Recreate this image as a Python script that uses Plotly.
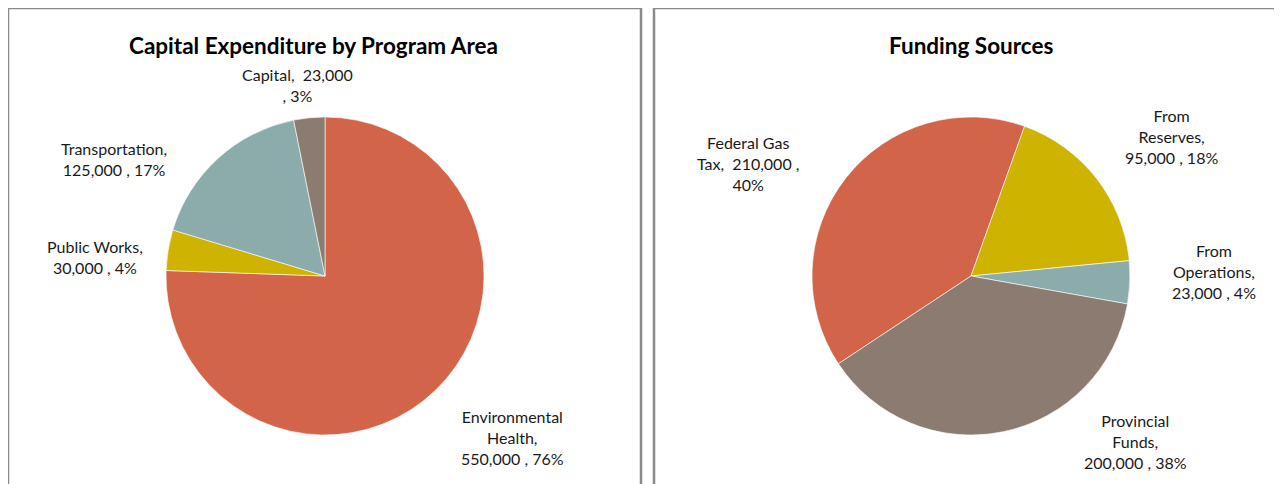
import plotly.graph_objects as go

# Data
prog_names = ["Environmental Health", "Public Works", "Transportation", "Capital"]
prog_values = [550000, 30000, 125000, 23000]
prog_colors = ["#D2644A", "#CEB300", "#8CACAC", "#8C7B70"]

fund_names = ["Federal Gas Tax", "From Reserves", "From Operations", "Provincial Funds"]
fund_values = [210000, 95000, 23000, 200000]
fund_colors = ["#D2644A", "#CEB300", "#8CACAC", "#8C7B70"]

# label line layouts (how the text wraps) and label positions in px
prog_label_lines = [["Environmental", "Health,", "{v} , {p}"],
                    ["Public Works,", "{v} , {p}"],
                    ["Transportation,", "{v} , {p}"],
                    ["Capital,  {v}", ", {p}"]]
prog_label_pos = [(512, 437), (95, 257), (114, 159), (297, 85)]

fund_label_lines = [["Federal Gas", "Tax,  {v} ,", "{p}"],
                    ["From", "Reserves,", "{v} , {p}"],
                    ["From", "Operations,", "{v} , {p}"],
                    ["Provincial", "Funds,", "{v} , {p}"]]
fund_label_pos = [(748, 163), (1171, 137), (1214, 271), (1135, 441)]

W, H = 1282, 484
OX, OY = 8, 8  # page body margin offset
FONT = "Lato"

def fx(px):
    return (px - OX) / W

def fy(py):
    return 1 - (py - OY) / H

fig = go.Figure()

def px_dom(cx, cy, r):
    return dict(x=[fx(cx - r), fx(cx + r)], y=[fy(cy + r), fy(cy - r)])

fig.add_trace(go.Pie(labels=prog_names, values=prog_values, sort=False, direction="clockwise",
                     rotation=0, marker=dict(colors=prog_colors, line=dict(color="white", width=0.6)),
                     textinfo="none", hoverinfo="label+value+percent", showlegend=False,
                     domain=px_dom(325, 276, 159)))
fig.add_trace(go.Pie(labels=fund_names, values=fund_values, sort=False, direction="clockwise",
                     rotation=236.5, marker=dict(colors=fund_colors, line=dict(color="white", width=0.6)),
                     textinfo="none", hoverinfo="label+value+percent", showlegend=False,
                     domain=px_dom(971, 276, 159)))

annotations = []

def add_labels(names, values, lines, positions):
    total = sum(values)
    for n, v, ln, (x, y) in zip(names, values, lines, positions):
        p = f"{round(100 * v / total)}%"
        txt = "<br>".join(l.format(v=f"{v:,}", p=p) for l in ln)
        annotations.append(dict(x=fx(x), y=fy(y), xref="paper", yref="paper",
                                text=txt, showarrow=False, xanchor="center", yanchor="middle",
                                align="center", font=dict(family=FONT, size=16, color="#1a1a1a")))

add_labels(prog_names, prog_values, prog_label_lines, prog_label_pos)
add_labels(fund_names, fund_values, fund_label_lines, fund_label_pos)

annotations.append(dict(x=fx(313), y=fy(45), xref="paper", yref="paper",
                        text="<b>Capital Expenditure by Program Area</b>", showarrow=False,
                        xanchor="center", yanchor="middle",
                        font=dict(family=FONT, size=22.5, color="#000000")))
annotations.append(dict(x=fx(971), y=fy(45), xref="paper", yref="paper",
                        text="<b>Funding Sources</b>", showarrow=False,
                        xanchor="center", yanchor="middle",
                        font=dict(family=FONT, size=22.5, color="#000000")))

shapes = [
    dict(type="rect", xref="paper", yref="paper", x0=fx(8), x1=fx(641), y0=-0.1, y1=fy(8),
         line=dict(color="#8a8a8a", width=2.5)),
    dict(type="rect", xref="paper", yref="paper", x0=fx(654), x1=1.1, y0=-0.1, y1=fy(8),
         line=dict(color="#8a8a8a", width=2.5)),
]

fig.update_layout(width=W, height=H, margin=dict(l=0, r=0, t=0, b=0),
                  paper_bgcolor="white", plot_bgcolor="white",
                  annotations=annotations, shapes=shapes,
                  font=dict(family=FONT))

fig.write_html("out.html")
